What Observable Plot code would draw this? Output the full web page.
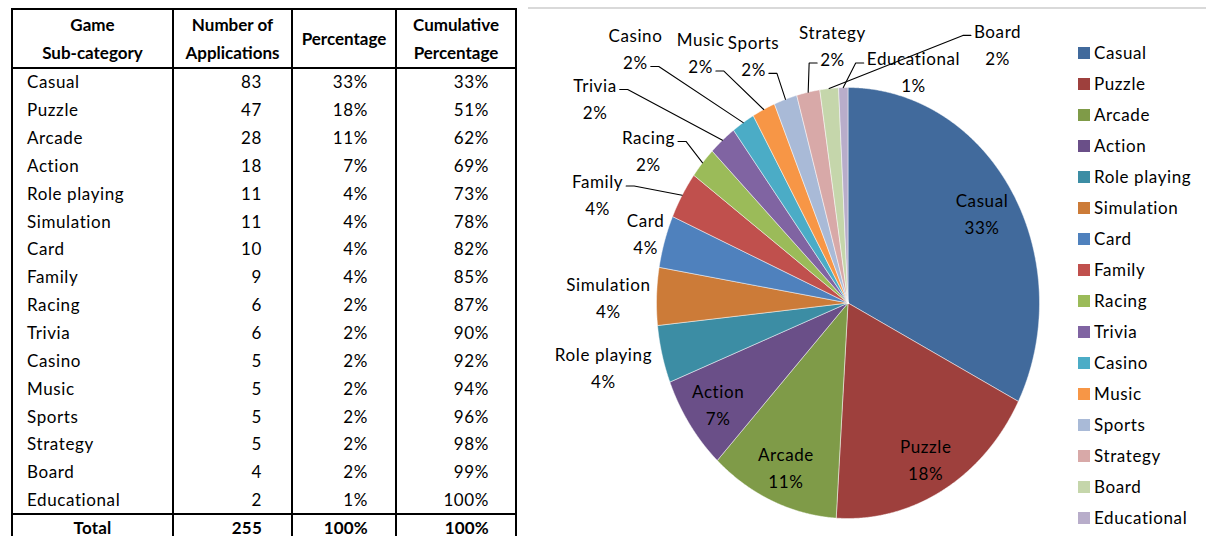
<!DOCTYPE html>
<html>
<head>
<meta charset="utf-8">
<script src="https://cdn.jsdelivr.net/npm/d3@7"></script>
<script src="https://cdn.jsdelivr.net/npm/@observablehq/plot@0.6"></script>
<style>
  html, body { margin: 0; padding: 0; background: #fff; }
  body { width: 1206px; height: 536px; overflow: hidden; position: relative; font-family: Lato, sans-serif; color: #000; }
  .cell { position: absolute; display: flex; align-items: center; box-sizing: border-box; font-size: 17px; letter-spacing: 0.6px; white-space: nowrap; }
  .hdr { font-weight: bold; justify-content: center; text-align: center; line-height: 28px; letter-spacing: 0; }
  .rule { position: absolute; background: #000; }
  #plotwrap { position: absolute; left: 520px; top: 0; width: 686px; height: 536px; }
  #plotwrap svg { background: transparent !important; max-width: none !important; }
  .leg { position: absolute; font-size: 17px; letter-spacing: 0.6px; white-space: nowrap; }
  .sw { position: absolute; width: 12px; height: 12px; }
</style>
</head>
<body>
<div id="table"></div>
<div id="topline" style="position:absolute;left:528px;top:7px;width:678px;height:2px;background:#d9d9d9"></div>
<div id="plotwrap"></div>
<div id="legend"></div>
<script>
// ---------- data ----------
const categories = ["Casual","Puzzle","Arcade","Action","Role playing","Simulation","Card","Family","Racing","Trivia","Casino","Music","Sports","Strategy","Board","Educational"];
const counts = [83,47,28,18,11,11,10,9,6,6,5,5,5,5,4,2];
const percentages = ["33%","18%","11%","7%","4%","4%","4%","4%","2%","2%","2%","2%","2%","2%","2%","1%"];
const cumulative = ["33%","51%","62%","69%","73%","78%","82%","85%","87%","90%","92%","94%","96%","98%","99%","100%"];
const headers = ["Game\nSub-category", "Number of\nApplications", "Percentage", "Cumulative\nPercentage"];
const totalRow = ["Total", String(d3.sum(counts)), "100%", "100%"];
const colors = ["#416a9c","#9e403d","#7f9b48","#6a4f88","#3c8da4","#cc7b38","#4f81bd","#c0504d","#9bbb59","#8064a2","#4bacc6","#f79646","#a9bad7","#d8a9a8","#c5d6ab","#b8adca"];

// ---------- layout (positions / styles only) ----------
const colX = [12, 173, 292, 396, 516];
const headTop = 9, headBottom = 68, totalTop = 513.5;
const rowH = (totalTop - headBottom) / categories.length;
const padLeft = 15, padRight = [0, 30, 28, 27];

// outside label positions in pie-radius units (x right, y up) and leader attach line
const outsideLabels = {
  "Role playing": [-1.277, -0.306, null],
  "Simulation":   [-1.251,  0.019, null],
  "Card":         [-1.057,  0.316, null],
  "Family":       [-1.308,  0.494, 0],
  "Racing":       [-1.042,  0.701, 0],
  "Trivia":       [-1.321,  0.942, 0],
  "Casino":       [-1.110,  1.174, 1],
  "Music":        [-0.770,  1.153, 1],
  "Sports":       [-0.493,  1.142, 1],
  "Strategy":     [-0.081,  1.190, 1],
  "Board":        [ 0.781,  1.193, 0],
  "Educational":  [ 0.342,  1.065, 0]
};
const insideRadius = 0.82, insideShiftPx = 4;

// ---------- table ----------
const table = d3.select("#table");
function cell(text, c, top, h, cls, align) {
  const d = table.append("div").attr("class", "cell " + (cls || ""))
    .style("left", (colX[c] + 1) + "px").style("width", (colX[c + 1] - colX[c] - 2) + "px")
    .style("top", top + "px").style("height", h + "px");
  if (align === "left") d.style("justify-content", "flex-start").style("padding-left", (padLeft - 1) + "px");
  else if (align === "right") d.style("justify-content", "flex-end").style("padding-right", (padRight[c] - 1) + "px");
  else d.style("justify-content", "center");
  d.html(text.split("\n").join("<br>"));
  return d;
}
headers.forEach((h, c) => cell(h, c, headTop, headBottom - headTop, "hdr"));
categories.forEach((cat, i) => {
  const top = headBottom + i * rowH;
  cell(cat, 0, top, rowH, "", "left");
  cell(String(counts[i]), 1, top, rowH, "", "right");
  cell(percentages[i], 2, top, rowH, "", "right");
  cell(cumulative[i], 3, top, rowH, "", "right");
});
totalRow.forEach((t, c) => {
  const d = cell(t, c, totalTop, rowH, "", c === 0 ? "center" : "right");
  d.style("font-weight", "bold").style("letter-spacing", "0.2px");
});
colX.forEach(x => table.append("div").attr("class", "rule")
  .style("left", (x - 1) + "px").style("top", (headTop - 1) + "px").style("width", "2px").style("height", (536 - headTop + 1) + "px"));
[headTop, headBottom, totalTop].forEach(y => table.append("div").attr("class", "rule")
  .style("left", (colX[0] - 1) + "px").style("top", (y - 1) + "px").style("width", (colX[4] - colX[0] + 2) + "px").style("height", "2px"));

// ---------- pie ----------
const W = 686, H = 536;
const cx = 327.5, cy = 302.5, rx = 191.5, ry = 215.5;
const fontSize = 17, letterSpacing = 0.6, lineGap = 27;

const arcs = d3.pie().sort(null).value(d => d)(counts);
const slicePoints = arcs.flatMap((a, i) => {
  const n = Math.max(2, Math.ceil((a.endAngle - a.startAngle) / 0.004));
  const pts = [{category: categories[i], x: 0, y: 0}];
  for (let k = 0; k <= n; k++) {
    const t = a.startAngle + (a.endAngle - a.startAngle) * k / n;
    pts.push({category: categories[i], x: Math.sin(t), y: Math.cos(t)});
  }
  pts.push({category: categories[i], x: 0, y: 0});
  return pts;
});

const ctx = document.createElement("canvas").getContext("2d");
ctx.font = fontSize + "px Lato";
const textWidth = s => ctx.measureText(s).width + letterSpacing * s.length;

const labelRows = [];
const leaderPoints = [];
arcs.forEach((a, i) => {
  const cat = categories[i];
  const mid = (a.startAngle + a.endAngle) / 2;
  let u, v, attach = null;
  if (outsideLabels[cat]) { [u, v, attach] = outsideLabels[cat]; }
  else { u = insideRadius * Math.sin(mid); v = insideRadius * Math.cos(mid) - insideShiftPx / ry; }
  const half = (lineGap / 2) / ry;
  const lines = [cat, percentages[i]];
  labelRows.push({x: u, y: v + half, text: lines[0]});
  labelRows.push({x: u, y: v - half, text: lines[1]});
  if (attach !== null) {
    const ex = Math.sin(mid), ey = Math.cos(mid);
    const side = ex > u ? 1 : -1;
    const ly = (attach === 0 ? v + half : v - half) - 3 / ry;
    const ax = u + side * (textWidth(lines[attach]) / 2 + 3) / rx;
    const bx = ax + side * 8 / rx;
    leaderPoints.push({category: cat, x: ax, y: ly}, {category: cat, x: bx, y: ly}, {category: cat, x: ex, y: ey});
  }
});

const chart = Plot.plot({
  width: W, height: H,
  marginLeft: cx - rx, marginRight: W - cx - rx,
  marginTop: cy - ry, marginBottom: H - cy - ry,
  x: {domain: [-1, 1], axis: null},
  y: {domain: [-1, 1], axis: null},
  color: {domain: categories, range: colors},
  style: {fontFamily: "Lato, sans-serif", fontSize: fontSize + "px", background: "transparent", overflow: "visible", letterSpacing: letterSpacing + "px"},
  marks: [
    Plot.line(slicePoints, {x: "x", y: "y", z: "category", fill: "category", stroke: "#ffffff", strokeWidth: 0.6, strokeOpacity: 0.8, curve: "linear"}),
    Plot.line(leaderPoints, {x: "x", y: "y", z: "category", stroke: "#000", strokeWidth: 1.1, strokeLinejoin: "miter", curve: "linear"}),
    Plot.text(labelRows, {x: "x", y: "y", text: "text", fill: "#000", fontSize: fontSize, textAnchor: "middle"})
  ]
});
document.getElementById("plotwrap").appendChild(chart);

// ---------- legend ----------
const legend = d3.select("#legend");
categories.forEach((cat, i) => {
  const yc = 52.5 + i * 31;
  legend.append("div").attr("class", "sw").style("left", "1078px").style("top", (yc - 6) + "px").style("background", colors[i]);
  legend.append("div").attr("class", "leg").style("left", "1094px").style("top", (yc - 11) + "px").style("line-height", "22px").text(cat);
});
</script>
</body>
</html>
